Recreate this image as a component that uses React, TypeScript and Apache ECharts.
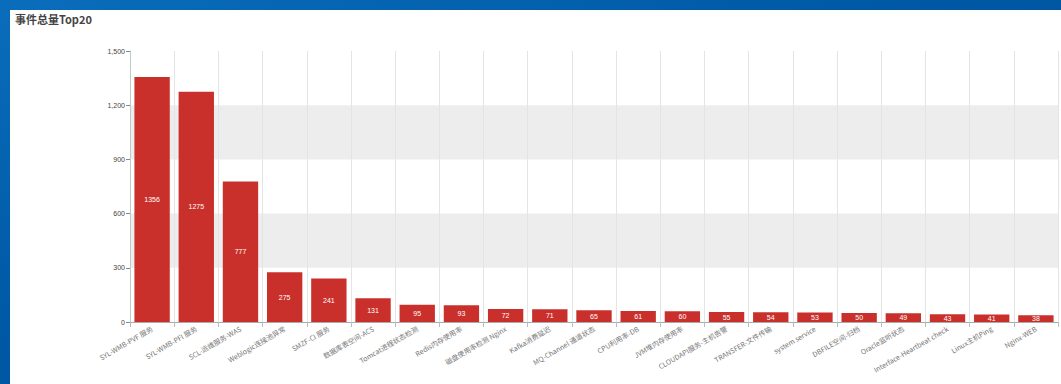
import React, { useEffect, useRef } from "react";
import * as echarts from "echarts";

const titleText = "事件总量Top20";
const categories = [
  "SYL-WMB-PVF 服务",
  "SYL-WMB-PFI 服务",
  "SCL-运维服务-WAS",
  "Weblogic连接池异常",
  "SMZF-CI 服务",
  "数据库表空间-ACS",
  "Tomcat进程状态检测",
  "Redis内存使用率",
  "磁盘使用率检测 Nginx",
  "Kafka消费延迟",
  "MQ-Channel 通道状态",
  "CPU利用率-DB",
  "JVM堆内存使用率",
  "CLOUDAPI服务-主机告警",
  "TRANSFER-文件传输",
  "system service",
  "DBFILE空间-归档",
  "Oracle监听状态",
  "Interface-Heartbeat check",
  "Linux主机Ping",
  "Nginx-WEB",
];
const values = [1356, 1275, 777, 275, 241, 131, 95, 93, 72, 71, 65, 61, 60, 55, 54, 53, 50, 49, 43, 41, 38];
const yTicks = { min: 0, max: 1500, interval: 300 };

export default function App() {
  const ref = useRef<HTMLDivElement>(null);
  useEffect(() => {
    if (!ref.current) return;
    const chart = echarts.init(ref.current, null, { renderer: "svg" });
    chart.setOption({
      animation: false,
      title: {
        text: titleText,
        left: 0,
        top: -2,
        textStyle: { fontSize: 11, fontWeight: "bold", color: "#444", fontFamily: "Noto Sans CJK SC, sans-serif" },
      },
      grid: { left: 120, right: 3, top: 41, bottom: 62, containLabel: false },
      xAxis: {
        type: "category",
        data: categories,
        axisLine: { show: true, lineStyle: { color: "#aaa" } },
        axisTick: { show: true, lineStyle: { color: "#bbb" } },
        splitLine: { show: true, lineStyle: { color: "#e4e4e4" } },
        axisLabel: {
          interval: 0,
          rotate: 30,
          fontSize: 7,
          color: "#777",
          margin: 6,
          fontFamily: "Noto Sans CJK SC, sans-serif",
        },
      },
      yAxis: {
        type: "value",
        min: yTicks.min,
        max: yTicks.max,
        interval: yTicks.interval,
        axisLine: { show: true, lineStyle: { color: "#b8cfc0" } },
        axisTick: { show: true, length: 4, lineStyle: { color: "#888" } },
        splitLine: { show: false },
        splitArea: {
          show: true,
          areaStyle: { color: ["rgba(255,255,255,0)", "rgba(200,200,200,0.32)"] },
        },
        axisLabel: {
          fontSize: 7,
          color: "#444",
          margin: 5,
          formatter: (v: number) => v.toLocaleString("en-US"),
        },
      },
      series: [
        {
          type: "bar",
          data: values,
          barCategoryGap: "20%",
          itemStyle: { color: "#c9302c" },
          label: {
            show: true,
            position: "inside",
            color: "#fff",
            fontSize: 7,
          },
        },
      ],
    });
    return () => chart.dispose();
  }, []);
  return (
    <div
      style={{
        position: "fixed",
        left: 0,
        top: 0,
        width: 1061,
        height: 384,
        background: "linear-gradient(160deg, #0a6dbb 0%, #005aa6 40%, #00468f 100%)",
        overflow: "hidden",
      }}
    >
      <div
        style={{
          position: "absolute",
          left: 10,
          top: 10,
          width: 1051,
          height: 374,
          background: "#fff",
        }}
      >
        <div ref={ref} style={{ width: 1051, height: 374 }} />
      </div>
    </div>
  );
}
